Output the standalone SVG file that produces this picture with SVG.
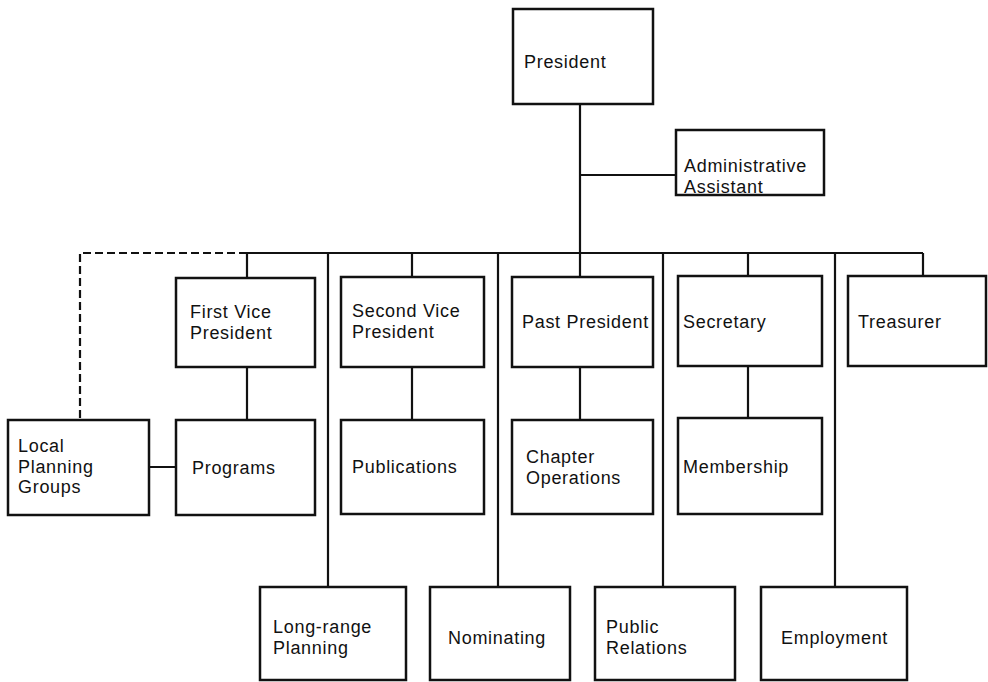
<svg xmlns="http://www.w3.org/2000/svg" width="988" height="682" viewBox="0 0 988 682">
<style>
.box{fill:#fff;stroke:#111;stroke-width:2.5}
.ln{fill:none;stroke:#111;stroke-width:2.2}
.dash{fill:none;stroke:#111;stroke-width:2.2;stroke-dasharray:8 4}
text{font-family:"Liberation Sans",Arial,sans-serif;font-size:18px;letter-spacing:0.7px;fill:#111}
</style>
<rect width="988" height="682" fill="#fff"/>
<g id="connectors">
<path class="ln" d="M580 104V253M580 175H676M247 253H923M247 253V278M412 253V277M580 253V277M748 253V276M923 253V276"/>
<path class="ln" d="M328 253V587M498 253V587M663 253V587M835 253V587"/>
<path class="ln" d="M247 367V420M412 367V420M580 367V420M748 366V418M149 467H176"/>
<path class="dash" d="M247 253H80V420"/>
</g>
<g id="president"><rect class="box" x="513" y="9" width="140" height="95"/><text x="524" y="68">President</text></g>
<g id="admin"><rect class="box" x="676" y="130" width="148" height="65"/><text x="684" y="172">Administrative</text><text x="684" y="193">Assistant</text></g>
<g id="fvp"><rect class="box" x="176" y="278" width="139" height="89"/><text x="190" y="318">First Vice</text><text x="190" y="339">President</text></g>
<g id="svp"><rect class="box" x="341" y="277" width="143" height="90"/><text x="352" y="317">Second Vice</text><text x="352" y="338">President</text></g>
<g id="past"><rect class="box" x="512" y="277" width="141" height="90"/><text x="522" y="328">Past President</text></g>
<g id="secretary"><rect class="box" x="678" y="276" width="144" height="90"/><text x="683" y="328">Secretary</text></g>
<g id="treasurer"><rect class="box" x="848" y="276" width="138" height="90"/><text x="858" y="328">Treasurer</text></g>
<g id="local"><rect class="box" x="8" y="420" width="141" height="95"/><text x="18" y="452">Local</text><text x="18" y="473">Planning</text><text x="18" y="493">Groups</text></g>
<g id="programs"><rect class="box" x="176" y="420" width="139" height="95"/><text x="192" y="474">Programs</text></g>
<g id="publications"><rect class="box" x="341" y="420" width="143" height="94"/><text x="352" y="473">Publications</text></g>
<g id="chapter"><rect class="box" x="512" y="420" width="141" height="94"/><text x="526" y="463">Chapter</text><text x="526" y="484">Operations</text></g>
<g id="membership"><rect class="box" x="678" y="418" width="144" height="96"/><text x="683" y="473">Membership</text></g>
<g id="longrange"><rect class="box" x="260" y="587" width="146" height="93"/><text x="273" y="633">Long-range</text><text x="273" y="654">Planning</text></g>
<g id="nominating"><rect class="box" x="430" y="587" width="140" height="93"/><text x="448" y="644">Nominating</text></g>
<g id="publicrel"><rect class="box" x="595" y="587" width="140" height="93"/><text x="606" y="633">Public</text><text x="606" y="654">Relations</text></g>
<g id="employment"><rect class="box" x="761" y="587" width="146" height="93"/><text x="781" y="644">Employment</text></g>
</svg>
